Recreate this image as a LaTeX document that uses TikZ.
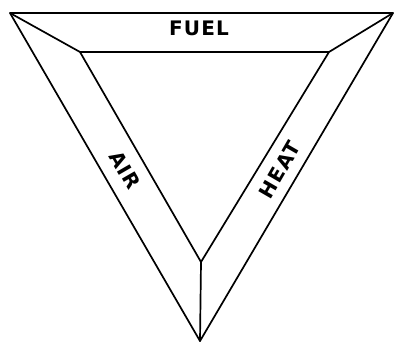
\documentclass[tikz,border=0pt]{standalone}
\usepackage{fontspec}
\setmainfont{DejaVu Sans}[LetterSpace=6]
\begin{document}
\begin{tikzpicture}[x=1pt,y=-1pt,
  edge/.style={line width=1.7pt, line join=round, line cap=round},
  lbl/.style={font=\bfseries\fontsize{20}{20}\selectfont, inner sep=0pt}]
\useasboundingbox (0,0) rectangle (396,344);
% outer corners
\coordinate (OA) at (10,13);
\coordinate (OB) at (393,13);
\coordinate (OC) at (200,341);
% inner corners
\coordinate (IA) at (80,52);
\coordinate (IB) at (329,52);
\coordinate (IC) at (201,262);
\draw[edge] (OA) -- (OB) -- (OC) -- cycle;
\draw[edge] (IA) -- (IB) -- (IC) -- cycle;
\draw[edge] (OA) -- (IA);
\draw[edge] (OB) -- (IB);
\draw[edge] (OC) -- (IC);
\node[lbl] (fuel) at (199,28) {FUEL};
\node[lbl, rotate=-60] (air) at (125,170) {AIR};
\node[lbl, rotate=60] (heat) at (280,170) {HEAT};
\end{tikzpicture}
\end{document}
